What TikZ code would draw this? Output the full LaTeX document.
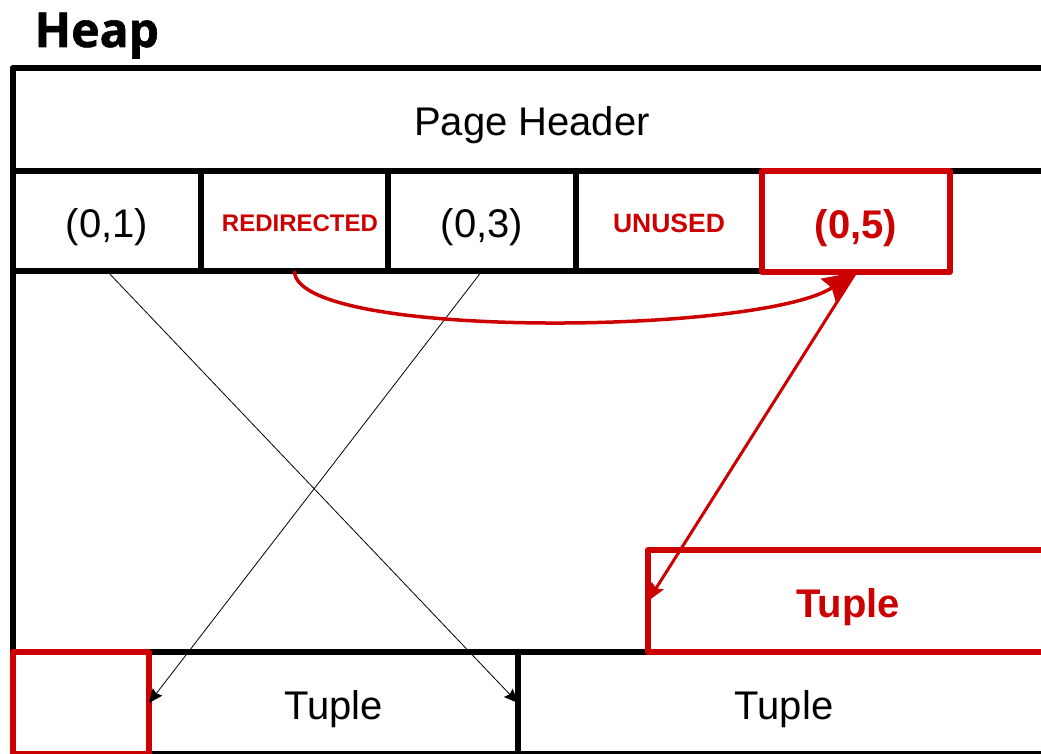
\documentclass[tikz,border=0pt]{standalone}
\usepackage{fontspec}
\setmainfont{Liberation Sans}
\newfontfamily\heapfont{Open Sans}[BoldFeatures={FakeBold=1.2}]
\usetikzlibrary{arrows.meta}
\definecolor{dred}{HTML}{CC0000}
\begin{document}
\begin{tikzpicture}[x=1pt,y=-1pt,
  cell/.style={rectangle, inner sep=0pt, outer sep=0pt, line width=5.5pt, line join=round},
  blackcell/.style={cell, draw=black},
  redcell/.style={cell, draw=dred},
  big/.style={font=\fontsize{40}{48}\selectfont, text height=33pt, text depth=0pt},
  bigred/.style={font=\bfseries\fontsize{40}{48}\selectfont, text=dred, text height=33pt, text depth=0pt},
  thinarrow/.style={draw=black, line width=0.8pt, -{Stealth[length=14pt,width=12pt,inset=2pt]}},
  redcurve/.style={draw=dred, line width=3.5pt, -{Stealth[length=33pt,width=27pt,inset=4pt]}},
  redline/.style={draw=dred, line width=3pt, -{Stealth[length=18pt,width=14pt,inset=3pt]}}
]
\useasboundingbox (0,0) rectangle (1041,754);

% title
\node[anchor=base west, font=\heapfont\bfseries\fontsize{48}{56}\selectfont] (title) at (31,47) {Heap};

% page frame
\node[blackcell, minimum width=1047pt, minimum height=686pt] (page) at (536.5,411) {};

% header
\node[blackcell, big, minimum width=1038pt, minimum height=103pt] (hdr) at (532,119.5) {Page Header};

% line pointers
\node[blackcell, big, minimum width=188pt, minimum height=100pt] (s1) at (107,221) {(0,1)};
\node[blackcell, minimum width=187pt, minimum height=100pt, font=\bfseries\fontsize{24}{29}\selectfont, text=dred, text height=22pt, text depth=0pt] (s2) at (294.5,221) {\hspace*{11pt}REDIRECTED};
\node[blackcell, big, minimum width=188pt, minimum height=100pt] (s3) at (482,221) {(0,3)};
\node[blackcell, minimum width=186pt, minimum height=100pt, font=\bfseries\fontsize{26.5}{32}\selectfont, text=dred, text height=23.5pt, text depth=0pt] (s4) at (669,221) {UNUSED};

% bottom tuples
\node[blackcell, big, minimum width=369pt, minimum height=102pt] (t1) at (333.5,703) {Tuple};
\node[blackcell, big, minimum width=532pt, minimum height=102pt] (t2) at (784,703) {Tuple};

% red boxes
\node[redcell, minimum width=136pt, minimum height=102pt] (free) at (81,703) {};
\node[redcell, fill=white, bigred, minimum width=400pt, minimum height=102pt] (t3) at (848,601) {Tuple};
\node[redcell, fill=white, bigred, minimum width=188pt, minimum height=101pt] (s5) at (856,221.5) {(0,5)};

% connectors
\draw[thinarrow] (s1.south) -- (t1.east);
\draw[thinarrow] (s3.south) -- (t1.west);
\draw[redcurve] (s2.south) .. controls (295,340) and (760,335) .. (s5.south);
\draw[redline] (s5.south) -- (t3.west);
\end{tikzpicture}
\end{document}
